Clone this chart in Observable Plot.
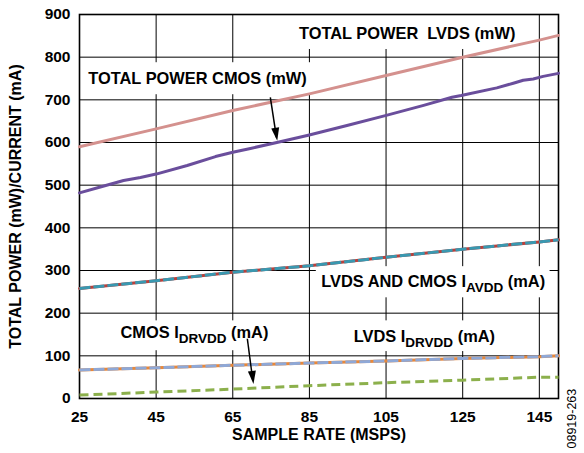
<!DOCTYPE html>
<html><head><meta charset="utf-8">
<script src="https://cdn.jsdelivr.net/npm/d3@7"></script>
<script src="https://cdn.jsdelivr.net/npm/@observablehq/plot@0.6"></script>
<style>body{margin:0;background:#fff}</style>
</head><body><div id="chart"></div>
<script>
// ---- data ----
const xTicks = [25, 45, 65, 85, 105, 125, 145];
const yTicks = [0, 100, 200, 300, 400, 500, 600, 700, 800, 900];
const rates = [25, 45, 65, 85, 105, 125, 145, 150];
const lvdsTotal = [590, 632, 675, 714, 757, 800, 840, 851];
const avdd = [258, 276, 296, 311, 331, 350, 367, 372];
const lvdsDrvdd = [67, 72, 78, 83, 88, 94, 98, 100];
const cmosDrvdd = [8, 15, 22, 30, 37, 43, 50, 50];
const cmosRates = [25, 30.2, 36.5, 40.9, 45, 53.1, 60.5, 65, 69.6, 76.5, 84.7, 94.8, 104.8, 114.8, 122.2, 124.6, 133.9, 138.2, 140.8, 143.4, 146, 150];
const cmosTotal = [482, 495, 511, 518, 526, 546, 567, 577, 586, 600, 617, 640, 663, 687, 706, 710, 728, 739, 746, 749, 755, 762];
const seriesLabels = ["TOTAL POWER  LVDS (mW)", "TOTAL POWER CMOS (mW)", "LVDS AND CMOS I_AVDD (mA)", "LVDS I_DRVDD (mA)", "CMOS I_DRVDD (mA)"];
const xTitle = "SAMPLE RATE (MSPS)";
const yTitle = "TOTAL POWER (mW)/CURRENT (mA)";
const figId = "08919-263";

const tbl = (xa, ya) => xa.map((x, i) => ({x, y: ya[i]}));

const arrowHead = {draw(ctx) { ctx.moveTo(0, 0); ctx.lineTo(-4, -13); ctx.lineTo(4, -13); ctx.closePath(); }};

const boxes = [
  {x1: 80.0, x2: 142.6, y1: 818, y2: 900},
  {x1: 25.8, x2: 85.8, y1: 712, y2: 787},
  {x1: 86.8, x2: 147.8, y1: 236, y2: 309},
  {x1: 94.4, x2: 136.1, y1: 110, y2: 182},
  {x1: 34.4, x2: 75.3, y1: 112, y2: 182}
];
const labelPos = [
  {x: 110.5, y: 855}, {x: 55.8, y: 750}, {x: 117.3, y: 273}, {x: 115, y: 145}, {x: 55, y: 153}
].map((p, i) => ({...p, t: seriesLabels[i]}));

const chart = Plot.plot({
  width: 584, height: 453,
  marginLeft: 79, marginRight: 26, marginTop: 14, marginBottom: 55,
  style: {fontFamily: "'Liberation Sans', Arial, sans-serif", fontWeight: "bold", fontSize: "15.5px", background: "#fff", color: "#000"},
  x: {domain: [25, 150]},
  y: {domain: [0, 900]},
  marks: [
    Plot.gridX(xTicks, {stroke: "#000", strokeOpacity: 1, strokeWidth: 1}),
    Plot.gridY(yTicks, {stroke: "#000", strokeOpacity: 1, strokeWidth: 1}),
    Plot.rect(boxes, {x1: "x1", x2: "x2", y1: "y1", y2: "y2", fill: "#fff"}),
    Plot.frame({stroke: "#000", strokeWidth: 1.6}),
    Plot.axisX(xTicks, {tickSize: 0, tickPadding: 12, label: null}),
    Plot.axisY(yTicks, {tickSize: 0, tickPadding: 9, label: null}),
    Plot.line(tbl(rates, lvdsTotal), {x: "x", y: "y", stroke: "#d4918e", strokeWidth: 3}),
    Plot.line(tbl(cmosRates, cmosTotal), {x: "x", y: "y", stroke: "#6a4e9c", strokeWidth: 3}),
    Plot.line(tbl(rates, avdd), {x: "x", y: "y", stroke: "#b8413c", strokeWidth: 3}),
    Plot.line(tbl(rates, avdd), {x: "x", y: "y", stroke: "#3a98b0", strokeWidth: 3, strokeDasharray: "11,3", strokeLinecap: "butt"}),
    Plot.line(tbl(rates, lvdsDrvdd), {x: "x", y: "y", stroke: "#e8883a", strokeWidth: 3}),
    Plot.line(tbl(rates, lvdsDrvdd), {x: "x", y: "y", stroke: "#8fa8d6", strokeWidth: 3, strokeDasharray: "11,3", strokeLinecap: "butt"}),
    Plot.line(tbl(rates, cmosDrvdd), {x: "x", y: "y", stroke: "#8cb04c", strokeWidth: 3, strokeDasharray: "9,5", strokeLinecap: "butt"}),
    Plot.link([{x1: 74.8, y1: 706, x2: 76.4, y2: 612}], {x1: "x1", y1: "y1", x2: "x2", y2: "y2", stroke: "#000", strokeWidth: 1.5}),
    Plot.dot([{x: 76.6, y: 604}], {x: "x", y: "y", symbol: arrowHead, fill: "#000", stroke: "none", rotate: -9}),
    Plot.link([{x1: 68.8, y1: 140, x2: 70.2, y2: 44}], {x1: "x1", y1: "y1", x2: "x2", y2: "y2", stroke: "#000", strokeWidth: 1.5}),
    Plot.dot([{x: 70.4, y: 34}], {x: "x", y: "y", symbol: arrowHead, fill: "#000", stroke: "none", rotate: -7}),
    Plot.text(labelPos, {x: "x", y: "y", text: "t", fill: "#000", fontSize: 16.4}),
    Plot.text([xTitle], {frameAnchor: "bottom", dy: 41, text: d => d, fontSize: 16}),
    Plot.text([yTitle], {frameAnchor: "left", textAnchor: "middle", dx: -64, rotate: -90, text: d => d, fontSize: 16}),
    Plot.text([figId], {frameAnchor: "bottom-right", textAnchor: "start", dx: 17, dy: 50, rotate: -90, text: d => d, fontSize: 12.5, fontWeight: "normal"})
  ]
});

// subscripts
chart.querySelectorAll("text").forEach(t => {
  const s = t.textContent;
  const m = s.match(/^(.*)_(\S+)(.*)$/);
  if (!m) return;
  t.textContent = "";
  const ns = "http://www.w3.org/2000/svg";
  const a = document.createElementNS(ns, "tspan"); a.textContent = m[1];
  const b = document.createElementNS(ns, "tspan"); b.textContent = m[2];
  b.setAttribute("dy", "5"); b.setAttribute("font-size", "13.5px");
  const c = document.createElementNS(ns, "tspan"); c.textContent = m[3];
  c.setAttribute("dy", "-5");
  t.append(a, b, c);
});
document.getElementById("chart").append(chart);
</script>
</body></html>
